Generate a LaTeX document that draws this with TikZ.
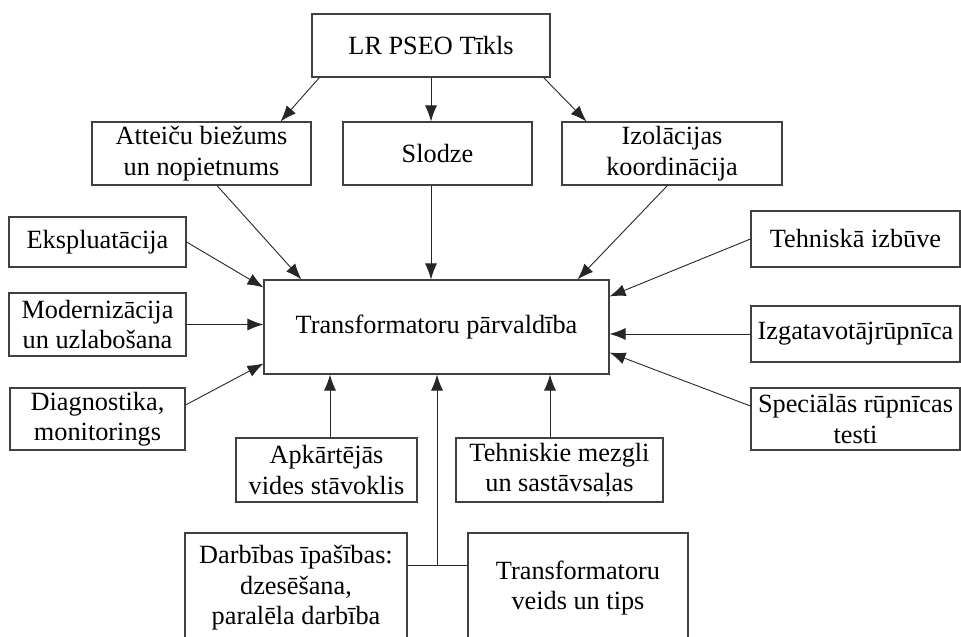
\documentclass[tikz,border=0pt]{standalone}
\usepackage{fontspec}
\setmainfont{Liberation Serif}
\usetikzlibrary{arrows.meta}
\begin{document}
\begin{tikzpicture}[x=1pt,y=-1pt,
  box/.style={draw=black!75,line width=1.1pt,align=center,inner sep=0pt,
    font=\fontsize{26.3}{30.5}\selectfont},
  arr/.style={line width=0.9pt,draw=black!85,-{Latex[length=16pt,width=12pt]}},
  ln/.style={line width=0.9pt,draw=black!85}]
\useasboundingbox (0,0) rectangle (961,637);
\clip (0,0) rectangle (961,637);
% boxes: centre, width, height
\node[box,minimum width=238pt,minimum height=63pt] (top) at (431,45.5) {LR PSEO Tīkls};
\node[box,minimum width=219pt,minimum height=63pt] (att) at (201.5,153.5) {Atteiču biežums\\un nopietnums};
\node[box,minimum width=189pt,minimum height=63pt] (slo) at (437.5,153.5) {Slodze};
\node[box,minimum width=220pt,minimum height=63pt] (iz) at (672,153.5) {Izolācijas\\koordinācija};
\node[box,minimum width=345pt,minimum height=94pt] (ctr) at (436.5,327) {Transformatoru pārvaldība};
\node[box,minimum width=177pt,minimum height=50pt] (eks) at (97.5,242) {Ekspluatācija};
\node[box,minimum width=177pt,minimum height=63pt] (mod) at (97.5,324.5) {Modernizācija\\un uzlabošana};
\node[box,minimum width=175pt,minimum height=62pt] (dia) at (97.5,419) {Diagnostika,\\monitorings};
\node[box,minimum width=209pt,minimum height=56pt] (teh) at (855.5,239) {Tehniskā izbūve};
\node[box,minimum width=209pt,minimum height=56pt] (izg) at (855.5,334) {Izgatavotājrūpnīca};
\node[box,minimum width=209pt,minimum height=62pt] (spe) at (855.5,419) {Speciālās rūpnīcas\\testi};
\node[box,minimum width=181pt,minimum height=64pt] (apk) at (326.5,470) {Apkārtējās\\vides stāvoklis};
\node[box,minimum width=207pt,minimum height=64pt] (tm) at (559.5,470) {Tehniskie mezgli\\un sastāvsaļas};
\node[box,minimum width=222pt,minimum height=110pt] (dar) at (296,588) {Darbības īpašības:\\dzesēšana,\\paralēla darbība};
\node[box,minimum width=220pt,minimum height=110pt] (tv) at (578,588) {Transformatoru\\veids un tips};
\coordinate (j) at (437,565);
% connectors from the network box
\draw[arr] ([xshift=8pt]top.south west) -- ([xshift=-31pt]att.north east);
\draw[arr] (top.south) -- (top.south |- slo.north);
\draw[arr] ([xshift=-7pt]top.south east) -- ([xshift=25pt]iz.north west);
% connectors into the management box
\draw[arr] ([xshift=15.5pt]att.south) -- ([xshift=38pt]ctr.north west);
\draw[arr] (top.south |- slo.south) -- (top.south |- ctr.north);
\draw[arr] ([xshift=106pt]iz.south west) -- ([xshift=-32pt]ctr.north east);
\draw[arr] (eks.east) -- ([yshift=-8pt]ctr.north west);
\draw[arr] (mod.east) -- (mod.east -| ctr.west);
\draw[arr] ([yshift=14pt]dia.east) -- ([yshift=11pt]ctr.south west);
\draw[arr] (teh.west) -- ([yshift=-17pt]ctr.north east);
\draw[arr] (izg.west) -- (izg.west -| ctr.east);
\draw[arr] ([yshift=13pt]spe.west) -- ([yshift=22pt]ctr.south east);
\draw[arr] ([xshift=3.5pt]apk.north) -- ([xshift=3.5pt]apk.north |- ctr.south);
\draw[arr] ([xshift=-9.5pt]tm.north) -- ([xshift=-9.5pt]tm.north |- ctr.south);
% joint line of the two lower boxes
\draw[ln] (dar.east |- j) -- (tv.west |- j);
\draw[arr] (j) -- (j |- ctr.south);
\end{tikzpicture}
\end{document}
